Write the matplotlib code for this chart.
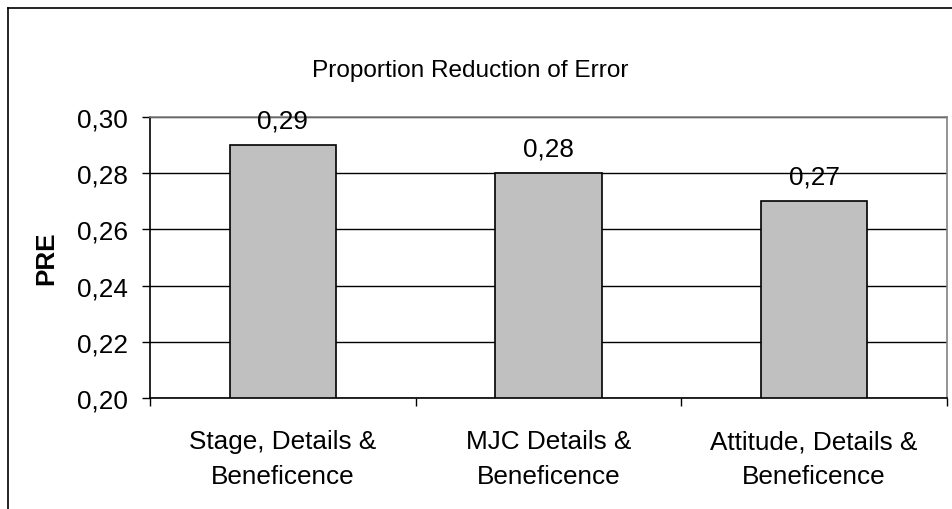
import numpy as np
import matplotlib
matplotlib.use('Agg')
from matplotlib import pyplot as plt
from matplotlib.lines import Line2D
from matplotlib.ticker import FuncFormatter, FixedLocator

# values for each model
categories = ['Stage, Details &\nBeneficence', 'MJC Details &\nBeneficence', 'Attitude, Details &\nBeneficence']
pre_values = [0.29, 0.28, 0.27]
value_labels = ['0,29', '0,28', '0,27']
y_ticks = [0.20, 0.22, 0.24, 0.26, 0.28, 0.30]

plt.rcParams['font.family'] = ['Liberation Sans', 'DejaVu Sans']
fs = 18.8

fig = plt.figure(figsize=(9.52, 5.10), dpi=100)
ax = fig.add_axes([150/952, 1 - 399/510, 797/952, 281/510])

x = np.arange(len(categories))
ax.bar(x, [v - 0.20 for v in pre_values], bottom=0.20, width=0.4,
       color='#c0c0c0', edgecolor='black', linewidth=1.2, zorder=3)

for xi, v, lab in zip(x, pre_values, value_labels):
    ax.annotate(lab, (xi, v), xytext=(0, 9), textcoords='offset points',
                ha='center', va='bottom', fontsize=fs, zorder=4)

ax.set_xlim(-0.5, len(categories) - 0.5)
ax.set_ylim(0.20, 0.30)
ax.set_yticks(y_ticks)
ax.yaxis.set_major_formatter(FuncFormatter(lambda v, p: f'{v:.2f}'.replace('.', ',')))
ax.grid(axis='y', color='black', linewidth=1, zorder=0)

ax.set_xticks(x)
ax.set_xticklabels(categories, fontsize=fs, linespacing=1.55)
ax.tick_params(axis='x', which='major', length=0, pad=22.5)
ax.xaxis.set_minor_locator(FixedLocator(np.arange(-0.5, len(categories), 1.0)))
ax.tick_params(axis='x', which='minor', length=6, width=1, direction='out')
ax.tick_params(axis='y', labelsize=fs, length=6, width=1, direction='out', pad=10)

for s in ['left', 'bottom']:
    ax.spines[s].set_color('black')
    ax.spines[s].set_linewidth(1.2)
for s in ['top', 'right']:
    ax.spines[s].set_color('#808080')
    ax.spines[s].set_linewidth(1.2)

ax.set_ylabel('PRE', fontsize=fs, fontweight='bold', labelpad=13)

fig.text(470/952, 1 - 71/510, 'Proportion Reduction of Error', ha='center', va='center', fontsize=17.6)

# chart frame (left and top edges)
fig.add_artist(Line2D([8/952, 8/952], [0, 1 - 9/510], color='black', lw=1.2, transform=fig.transFigure))
fig.add_artist(Line2D([8/952, 1], [1 - 9/510, 1 - 9/510], color='black', lw=1.2, transform=fig.transFigure))

fig.savefig('out.png', dpi=100)
